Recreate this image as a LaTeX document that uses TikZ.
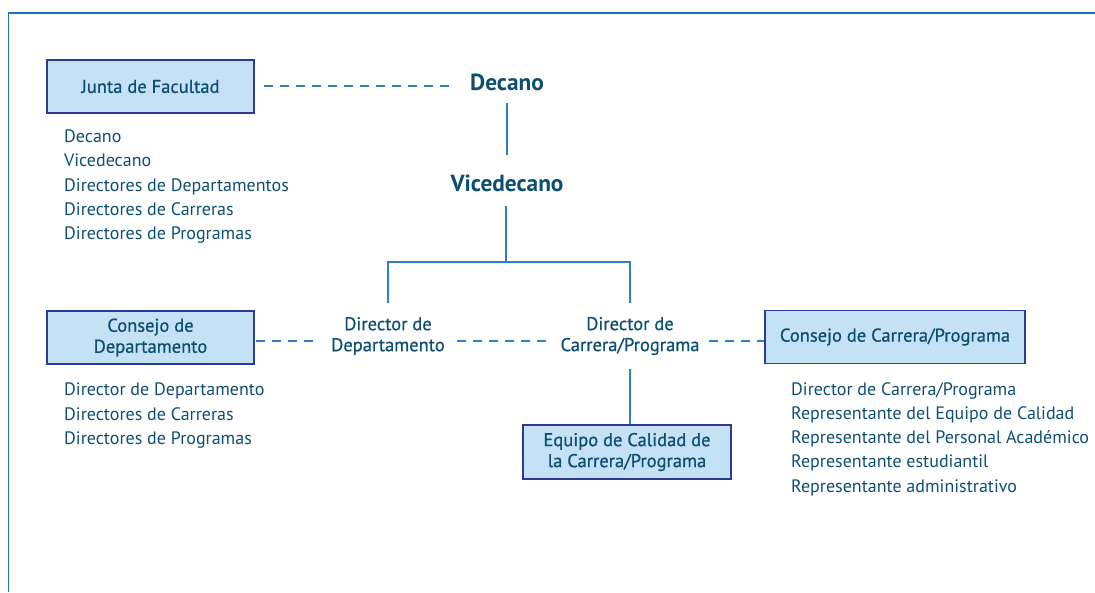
\documentclass[tikz,border=0pt]{standalone}
\usepackage{fontspec}
\setmainfont{PT Sans}
\newfontfamily\medfont[FakeBold=0.8]{PT Sans}
\definecolor{txt}{RGB}{14,79,112}
\definecolor{linec}{RGB}{47,125,194}
\definecolor{framec}{RGB}{31,115,191}
\definecolor{boxfill}{RGB}{197,225,245}
\definecolor{boxborder}{RGB}{46,57,145}
\tikzset{
  orgbox/.style={draw=boxborder, line width=1.2pt, fill=boxfill, minimum width=207pt,
    minimum height=53pt, align=center, text=txt, inner sep=0pt,
    font=\medfont\fontsize{18.5}{21}\selectfont},
  conn/.style={draw=linec, line width=1.4pt},
  dashconn/.style={conn, line width=1.6pt, dash pattern=on 9pt off 7pt},
  headlbl/.style={font=\bfseries\fontsize{23.3}{26}\selectfont, text=txt, inner sep=0pt},
  midlbl/.style={font=\medfont\fontsize{18.5}{21}\selectfont, align=center, text=txt, inner sep=0pt},
  members/.style={anchor=north west, align=left, text=txt, inner sep=0pt,
    font=\fontsize{18}{24.3}\selectfont},
}
\begin{document}
\begin{tikzpicture}[x=1pt,y=-1pt]
\useasboundingbox (0,0) rectangle (1095,592);
% frame
\draw[framec, line width=1.6pt] (8.3,592) -- (8.3,12.7) -- (1095,12.7);

% nodes
\node[orgbox] (junta) at (150.5,86.5) {Junta de Facultad};
\node[headlbl] (dec) at (507,82) {Decano};
\node[headlbl] (vice) at (507,183) {Vicedecano};
\node[members] (juntalist) at (64,129.5) {Decano\\Vicedecano\\Directores de Departamentos\\Directores de Carreras\\Directores de Programas};

\node[orgbox] (condep) at (150.5,337.5) {Consejo de\\Departamento};
\node[midlbl] (dirdep) at (388,336) {Director de\\Departamento};
\node[midlbl] (dircar) at (630,336) {Director de\\Carrera/Programa};
\node[orgbox, minimum width=260pt] (concar) at (895,337) {Consejo de Carrera/Programa};
\node[orgbox, minimum width=208pt, minimum height=54pt] (equipo) at (627,452) {Equipo de Calidad de\\la Carrera/Programa};

\node[members] (condeplist) at (64,383) {Director de Departamento\\Directores de Carreras\\Directores de Programas};
\node[members] (concarlist) at (791,382) {Director de Carrera/Programa\\Representante del Equipo de Calidad\\Representante del Personal Académico\\Representante estudiantil\\Representante administrativo};

\coordinate (bar) at (506,262);

% connectors
\draw[dashconn, shorten <=9pt, shorten >=17pt] ([yshift=0.5pt]junta.east) -- ([yshift=0.5pt]junta.east -| dec.west);
\draw[conn, shorten <=12pt, shorten >=19pt] (dec.south) -- (vice.north);
\draw[conn, shorten <=14pt] ([xshift=-1pt]vice.south) -- (bar);
\draw[conn, shorten <=14pt, shorten >=14pt] (dirdep.north) |- (bar) -| (dircar.north);
\draw[conn, shorten <=14pt] (dircar.south) -- (dircar.south |- equipo.north);
\draw[dashconn, shorten <=1pt, shorten >=13pt] ([yshift=-3.5pt]condep.east) -- ([yshift=-3.5pt]condep.east -| dirdep.west);
\draw[dashconn, shorten <=12pt, shorten >=10pt] ([yshift=-5pt]dirdep.east) -- ([yshift=-5pt]dirdep.east -| dircar.west);
\draw[dashconn, shorten <=9pt] ([yshift=-5pt]dircar.east) -- ([yshift=-5pt]dircar.east -| concar.west);
\end{tikzpicture}
\end{document}
